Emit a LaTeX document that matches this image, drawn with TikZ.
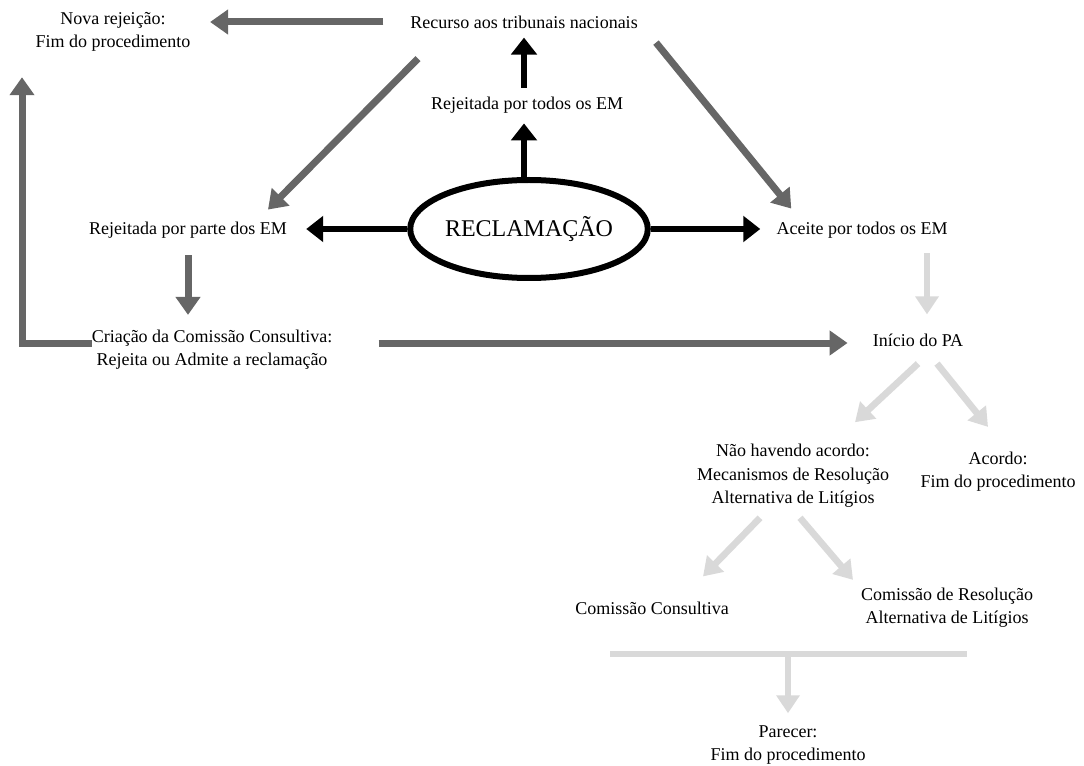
\documentclass[tikz,border=0pt]{standalone}
\usepackage{fontspec}
\setmainfont{Liberation Serif}
\usepackage{xcolor}
\usetikzlibrary{arrows.meta,calc,shapes.geometric}

\definecolor{darkgrey}{RGB}{102,102,102}
\definecolor{lightgrey}{RGB}{217,217,217}

\tikzset{
  txt/.style={inner sep=0pt,align=center,font=\fontsize{13.5}{17.5}\selectfont},
  darkarr/.style={draw=darkgrey,line width=5.25pt,-{Triangle[length=13.5pt,width=18pt]}},
  blackarr/.style={draw=black,line width=4.5pt,-{Triangle[length=12.75pt,width=19pt]}},
  lightarr/.style={draw=lightgrey,line width=5pt,-{Triangle[length=13.5pt,width=17pt]}},
}

\begin{document}
\begin{tikzpicture}[x=0.75pt,y=0.75pt,yscale=-1,xscale=1]
\useasboundingbox (0,0) rectangle (1084,766);

% Text Node
\node[txt] (nova) at (113,32) {Nova rejeição:\\Fim do procedimento};
% Text Node
\node[txt] (recurso) at (524,22) {Recurso aos tribunais nacionais};
% Text Node
\node[txt] (rtodos) at (527,105) {Rejeitada por todos os EM};
%Shape: Ellipse
\node[draw,ellipse,fill=white,line width=4.5pt,minimum width=166.5pt,minimum height=73.5pt,inner sep=0pt,font=\fontsize{18}{22}\selectfont] (recl) at (529,229) {RECLAMAÇÃO};
% Text Node
\node[txt] (rparte) at (188,230) {Rejeitada por parte dos EM};
% Text Node
\node[txt] (aceite) at (862,230) {Aceite por todos os EM};
% Text Node
\node[txt] (criacao) at (212,350) {Criação da Comissão Consultiva:\\Rejeita ou Admite a reclamação};
% Text Node
\node[txt] (inicio) at (918,340) {Início do PA};
% Text Node
\node[txt] (nao) at (793,476) {Não havendo acordo:\\Mecanismos de Resolução\\Alternativa de Litígios};
% Text Node
\node[txt] (acordo) at (998,472) {Acordo:\\Fim do procedimento};
% Text Node
\node[txt] (ccons) at (652,608) {Comissão Consultiva};
% Text Node
\node[txt] (cres) at (947,608) {Comissão de Resolução\\Alternativa de Litígios};
% Text Node
\node[txt] (parecer) at (788,745) {Parecer:\\Fim do procedimento};

\coordinate (bend) at (22,343);
\coordinate (barL) at (610,654);
\coordinate (barR) at (967,654);

%Straight Lines (black)
\draw[blackarr,shorten <=6.75pt,shorten >=6.75pt] (rtodos.north -| recurso.south) -- (recurso.south);
\draw[blackarr,shorten >=7.5pt] (recl.north -| recurso.south) -- (rtodos.south -| recurso.south);
\draw[blackarr,shorten >=14.25pt] (recl.west) -- (recl.west -| rparte.east);
\draw[blackarr,shorten >=12pt] (recl.east) -- (recl.east -| aceite.west);

%Straight Lines (dark grey)
\draw[darkarr,shorten <=20pt,shorten >=14.5pt] (recurso.west) -- (recurso.west -| nova.east);
\draw[darkarr] ($(recurso.south west)+(8,30)$) -- ($(rparte.north)+(80,-12)$);
\draw[darkarr] ($(recurso.south east)+(18,14)$) -- ($(aceite.north west)+(15,-13)$);
\draw[darkarr,shorten <=12.75pt,shorten >=11.25pt] (rparte.south) -- (rparte.south |- criacao.north);
\draw[darkarr,shorten >=19pt] (criacao.west |- bend) -- (bend) -- (bend |- nova.south);
\draw[darkarr,shorten <=34.5pt,shorten >=18.75pt] (criacao.east |- bend) -- (inicio.west |- bend);

%Straight Lines (light grey)
\draw[lightarr,shorten <=11.25pt,shorten >=14.25pt] ($(aceite.south -| inicio.north)+(9,0)$) -- ($(inicio.north)+(9,0)$);
\draw[lightarr] ($(inicio.south)+(0,17)$) -- ($(nao.north)+(62,-22)$);
\draw[lightarr] ($(inicio.south)+(19,17)$) -- ($(acordo.north)+(-10,-25)$);
\draw[lightarr] ($(nao.south)+(-33,10)$) -- ($(ccons.north)+(51,-25)$);
\draw[lightarr] ($(nao.south)+(7,10)$) -- ($(cres.north)+(-94,-8)$);
\draw[draw=lightgrey,line width=5pt] (barL) -- (barR);
\draw[lightarr,shorten >=9pt] (barL -| parecer.north) -- (parecer.north);

\end{tikzpicture}
\end{document}
